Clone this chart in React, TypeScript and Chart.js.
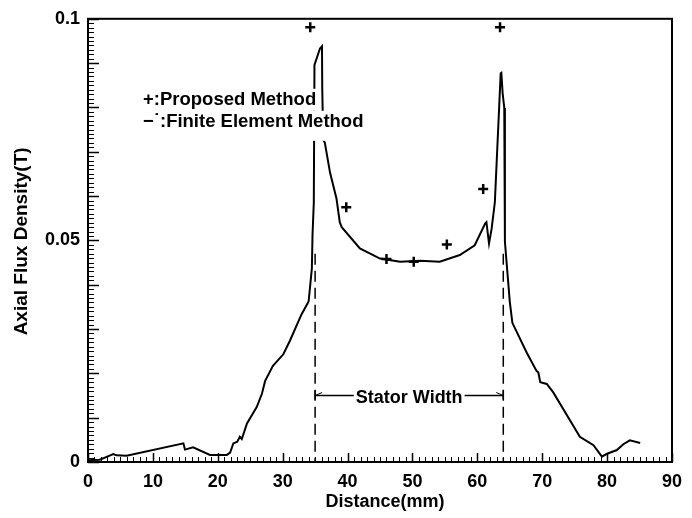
import { useEffect, useRef } from 'react';
import { Chart, registerables } from 'chart.js';

Chart.register(...registerables);

// Finite element solution of the axial flux density along the line
const femX = [
  0, 1.8, 2.6, 3.9, 4.4, 5.95, 14.7, 14.95, 16.2, 18.8, 21.4, 21.9, 22.4, 23.0, 23.4, 23.7,
  24.5, 26.0, 26.8, 27.3, 28.5, 30.1, 31.1, 32.9, 34.0, 34.2, 34.5, 34.6, 34.8, 34.9, 35.75,
  36.06, 36.1, 36.25, 36.5, 37.3, 38.3, 38.8, 39.1, 41.9, 45.0, 48.1, 51.2, 54.2, 57.3, 59.6,
  61.2, 61.4, 61.8, 62.2, 62.7, 63.6, 63.7, 63.9, 64.15, 64.25, 65.0, 65.4, 67.6, 69.1, 69.4,
  69.7, 70.7, 71.7, 75.8, 77.9, 79.2, 79.9, 81.5, 82.5, 83.5, 85.1,
];
const femY = [
  0.0004, 0.0005, 0.001, 0.0018, 0.0015, 0.0014, 0.0042, 0.0028, 0.0033, 0.0016, 0.0016, 0.0021,
  0.0042, 0.0046, 0.0057, 0.0052, 0.0087, 0.0124, 0.0154, 0.0183, 0.0217, 0.0243, 0.0273, 0.0333,
  0.0362, 0.0392, 0.0437, 0.0512, 0.0586, 0.0896, 0.0933, 0.0938, 0.0843, 0.0728, 0.072, 0.0653,
  0.0594, 0.0541, 0.053, 0.0482, 0.0459, 0.0452, 0.0454, 0.0452, 0.0467, 0.0489, 0.0538, 0.0541,
  0.0493, 0.0526, 0.0586, 0.0877, 0.0878, 0.0832, 0.0799, 0.0497, 0.0362, 0.0314, 0.0247, 0.0206,
  0.0202, 0.018, 0.0176, 0.0157, 0.0057, 0.0038, 0.0012, 0.0018, 0.0027, 0.004, 0.0049, 0.0043,
];

// Proposed (analytical) method samples
const proposedX = [34.25, 39.8, 46.0, 50.2, 55.3, 60.9, 63.5];
const proposedY = [0.0981, 0.0575, 0.0458, 0.0452, 0.0491, 0.0616, 0.0981];

// Axis ranges and labelled ticks
const xMin = 0;
const xMax = 90;
const xStep = 10;
const yMin = 0;
const yMax = 0.1;
const yStep = 0.01;
const yLabelled = [0, 0.05, 0.1];
const yLabelText = ['0', '0.05', '0.1'];

// Stator extent annotation (mm) and its heights (T)
const statorStart = 35;
const statorEnd = 64;
const statorArrowLevel = 0.015;
const statorDashTop = 0.047;

const xTitle = 'Distance(mm)';
const yTitle = 'Axial Flux Density(T)';
const legendLines = ['+:Proposed Method', '\u2212\u02D9:Finite Element Method'];
const statorLabel = 'Stator Width';

const FONT = '"Liberation Sans", Arial, Helvetica, sans-serif';

const decorPlugin = {
  id: 'decor',
  afterDatasetsDraw(chart: any) {
    const { ctx, chartArea: a } = chart;
    const x = chart.scales.x;
    const y = chart.scales.y;
    ctx.save();
    ctx.strokeStyle = '#000';
    ctx.fillStyle = '#000';

    // dashed stator edges
    ctx.lineWidth = 1.5;
    ctx.setLineDash([11, 6]);
    for (const v of [statorStart, statorEnd]) {
      const px = x.getPixelForValue(v);
      ctx.beginPath();
      ctx.moveTo(px, y.getPixelForValue(statorDashTop));
      ctx.lineTo(px, a.bottom);
      ctx.stroke();
    }
    ctx.setLineDash([]);

    // stator width dimension line
    const x0 = x.getPixelForValue(statorStart);
    const x1 = x.getPixelForValue(statorEnd);
    const py = y.getPixelForValue(statorArrowLevel);
    ctx.lineWidth = 1.5;
    ctx.beginPath();
    ctx.moveTo(x0, py);
    ctx.lineTo(x1, py);
    ctx.moveTo(x0, py - 5);
    ctx.lineTo(x0, py + 4);
    ctx.moveTo(x1, py - 5);
    ctx.lineTo(x1, py + 4);
    ctx.stroke();
    ctx.lineWidth = 1;
    ctx.beginPath();
    ctx.moveTo(x0 + 7, py - 3);
    ctx.lineTo(x0, py);
    ctx.moveTo(x1 - 7, py - 3);
    ctx.lineTo(x1, py);
    ctx.stroke();

    ctx.font = `bold 18px ${FONT}`;
    ctx.textBaseline = 'alphabetic';
    ctx.textAlign = 'center';
    const cx = x.getPixelForValue((statorStart + statorEnd) / 2);
    const sw = ctx.measureText(statorLabel).width;
    ctx.fillStyle = '#fff';
    ctx.fillRect(cx - sw / 2 - 2, py - 8, sw + 4, 18);
    ctx.fillStyle = '#000';
    ctx.fillText(statorLabel, cx, py + 7.5);

    // legend text over a white backing
    ctx.textAlign = 'left';
    const lx = a.left + 55;
    const baselines = [a.top + 86.5, a.top + 108.3];
    const boxes = [
      [a.top + 70, 22],
      [a.top + 92, 30],
    ];
    ctx.font = `bold 18.5px ${FONT}`;
    legendLines.forEach((t, i) => {
      const w = ctx.measureText(t).width;
      ctx.fillStyle = '#fff';
      ctx.fillRect(lx - 2, boxes[i][0], w + 4, boxes[i][1]);
      ctx.fillStyle = '#000';
      ctx.fillText(t, lx, baselines[i]);
    });
    ctx.restore();
  },
  afterDraw(chart: any) {
    const { ctx, chartArea: a } = chart;
    const x = chart.scales.x;
    const y = chart.scales.y;
    ctx.save();
    ctx.strokeStyle = '#000';
    ctx.fillStyle = '#000';

    // frame
    ctx.lineWidth = 2;
    ctx.strokeRect(a.left, a.top, a.right - a.left, a.bottom - a.top);

    // inward tick marks: minor every tenth of a major step
    const yMinor = yStep / 10;
    const ny = Math.round((yMax - yMin) / yMinor);
    ctx.lineWidth = 1;
    ctx.beginPath();
    for (let i = 0; i <= ny; i++) {
      if (i % 10 === 0) continue;
      const p = Math.round(y.getPixelForValue(yMin + i * yMinor)) + 0.5;
      ctx.moveTo(a.left, p);
      ctx.lineTo(a.left + 6, p);
    }
    const nx = Math.round(xMax - xMin);
    for (let i = 0; i <= nx; i++) {
      if (i % 10 === 0) continue;
      const p = Math.round(x.getPixelForValue(xMin + i)) + 0.5;
      ctx.moveTo(p, a.bottom);
      ctx.lineTo(p, a.bottom - 5);
    }
    ctx.stroke();

    ctx.lineWidth = 1.5;
    ctx.beginPath();
    for (let i = 0; i <= ny; i += 10) {
      const p = Math.round(y.getPixelForValue(yMin + i * yMinor)) + 0.5;
      ctx.moveTo(a.left, p);
      ctx.lineTo(a.left + 11, p);
    }
    for (let i = 0; i <= nx; i += 10) {
      const p = Math.round(x.getPixelForValue(xMin + i)) + 0.5;
      ctx.moveTo(p, a.bottom);
      ctx.lineTo(p, a.bottom - 9);
    }
    ctx.stroke();

    // axis titles
    ctx.font = `bold 18px ${FONT}`;
    ctx.textAlign = 'center';
    ctx.textBaseline = 'alphabetic';
    ctx.fillText(xTitle, (a.left + a.right) / 2 + 5, 507);
    ctx.save();
    ctx.font = `bold 19px ${FONT}`;
    ctx.translate(27, (a.top + a.bottom) / 2 + 1);
    ctx.rotate(-Math.PI / 2);
    ctx.fillText(yTitle, 0, 0);
    ctx.restore();
    ctx.restore();
  },
};

export default function App() {
  const canvasRef = useRef<HTMLCanvasElement | null>(null);

  useEffect(() => {
    const canvas = canvasRef.current;
    if (!canvas) return;
    const tickFont = { family: FONT, size: 18, weight: 'bold' as const };

    const chart = new Chart(canvas, {
      type: 'scatter',
      data: {
        datasets: [
          {
            label: 'Finite Element Method',
            data: femX.map((v, i) => ({ x: v, y: femY[i] })),
            showLine: true,
            borderColor: '#000',
            backgroundColor: '#000',
            borderWidth: 2,
            pointRadius: 0,
            tension: 0,
            order: 2,
          },
          {
            label: 'Proposed Method',
            data: proposedX.map((v, i) => ({ x: v, y: proposedY[i] })),
            showLine: false,
            pointStyle: 'cross',
            pointRadius: 5,
            borderWidth: 2.5,
            borderColor: '#000',
            backgroundColor: '#000',
            order: 1,
          },
        ],
      },
      options: {
        responsive: false,
        animation: false,
        devicePixelRatio: 1,
        layout: { padding: { left: 0, right: 20, top: 15, bottom: 0 } },
        plugins: {
          legend: { display: false },
          tooltip: { enabled: false },
        },
        scales: {
          x: {
            type: 'linear',
            min: xMin,
            max: xMax,
            grid: { display: false, drawTicks: false },
            border: { display: false },
            ticks: {
              stepSize: xStep,
              autoSkip: false,
              maxRotation: 0,
              padding: 9,
              color: '#000',
              font: tickFont,
            },
            afterFit: (s: any) => {
              s.height = 56;
            },
          },
          y: {
            type: 'linear',
            min: yMin,
            max: yMax,
            grid: { display: false, drawTicks: false },
            border: { display: false },
            ticks: {
              stepSize: yStep,
              autoSkip: false,
              padding: 8,
              color: '#000',
              font: tickFont,
              callback: (value: any) => {
                const idx = yLabelled.findIndex((t) => Math.abs(t - Number(value)) < 1e-9);
                return idx >= 0 ? yLabelText[idx] : '';
              },
            },
            afterFit: (s: any) => {
              s.width = 88;
            },
          },
        },
      },
      plugins: [decorPlugin],
    });

    return () => chart.destroy();
  }, []);

  return (
    <div style={{ position: 'fixed', left: 0, top: 0, width: 692, height: 518, background: '#fff' }}>
      <canvas ref={canvasRef} width={692} height={518} style={{ display: 'block' }} />
    </div>
  );
}
